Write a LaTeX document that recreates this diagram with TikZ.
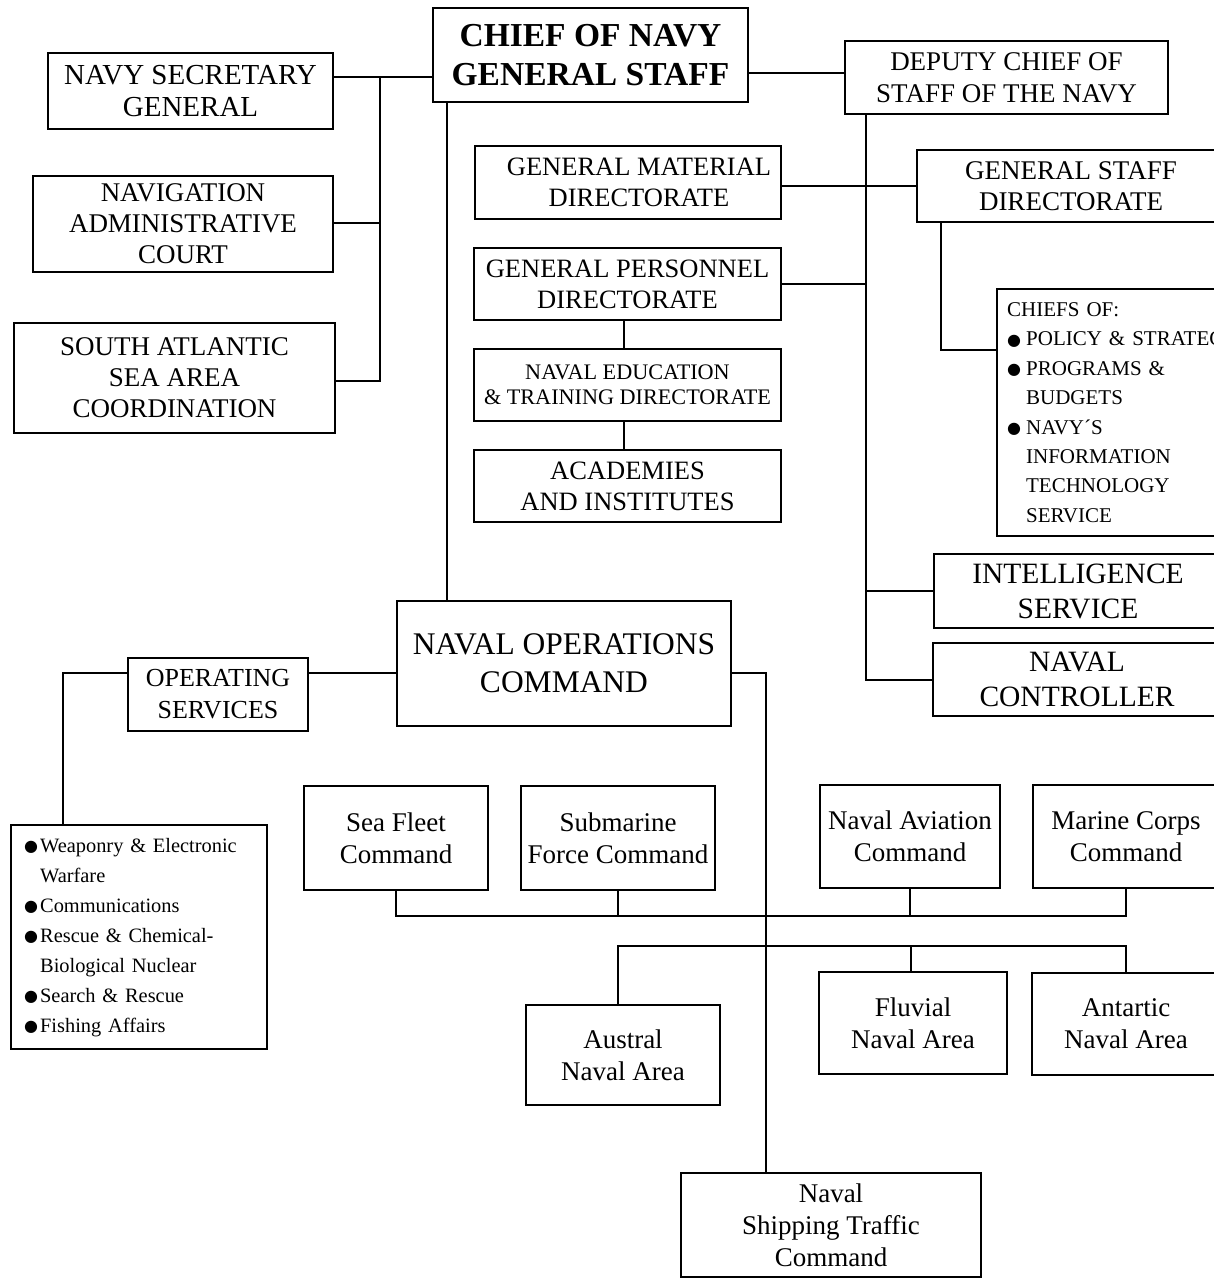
\documentclass[tikz,border=0pt]{standalone}
\usepackage{fontspec}
\setmainfont{Liberation Serif}
\newfontfamily\symfont{DejaVu Sans}
\newcommand\bul{\raisebox{0.5pt}{\symfont\fontsize{16}{16}\selectfont ●}}
\begin{document}
\begin{tikzpicture}[x=1pt,y=-1pt,
  box/.style={draw, line width=2.3pt, inner sep=0pt, align=center},
  conn/.style={line width=2.3pt},
  fbig/.style={font=\fontsize{27}{31}\selectfont},
  fmid/.style={font=\fontsize{26.5}{31}\selectfont},
  flarge/.style={font=\fontsize{29.5}{35}\selectfont},
  fsmall/.style={font=\fontsize{21}{29.4}\selectfont},
  flow/.style={font=\fontsize{27}{32}\selectfont}]
\useasboundingbox (0,0) rectangle (1214,1279);
\clip (0,0) rectangle (1214,1279);

% top level
\node[box, minimum width=315, minimum height=94, font=\bfseries\fontsize{33.5}{39}\selectfont] (chief) at (590.5,55) {CHIEF OF NAVY\\GENERAL STAFF};
\node[box, minimum width=285, minimum height=76, font=\fontsize{29}{32}\selectfont] (navysec) at (190.5,91) {NAVY SECRETARY\\GENERAL};
\node[box, fbig, minimum width=300, minimum height=96] (navcourt) at (183,224) {NAVIGATION\\ADMINISTRATIVE\\COURT};
\node[box, fbig, minimum width=321, minimum height=110] (southatl) at (174.5,378) {SOUTH ATLANTIC\\SEA AREA\\COORDINATION};
\node[box, font=\fontsize{27}{32}\selectfont, minimum width=323, minimum height=73] (deputy) at (1006.5,77.5) {DEPUTY CHIEF OF\\STAFF OF THE NAVY};

% directorates
\node[box, fmid, minimum width=306, minimum height=73] (gmat) at (628,182.5) {\hspace*{22pt}GENERAL MATERIAL\\\hspace*{22pt}DIRECTORATE};
\node[box, font=\fontsize{27}{31}\selectfont, minimum width=308, minimum height=72] (gsd) at (1071,186) {GENERAL STAFF\\DIRECTORATE};
\node[box, fmid, minimum width=307, minimum height=72] (gpers) at (627.5,284) {GENERAL PERSONNEL\\DIRECTORATE};
\node[box, minimum width=307, minimum height=72, font=\fontsize{22.2}{25}\selectfont] (naved) at (627.5,385) {NAVAL EDUCATION\\\& TRAINING DIRECTORATE};
\node[box, fmid, minimum width=307, minimum height=72] (acad) at (627.5,486) {ACADEMIES\\AND INSTITUTES};
\node[box, fsmall, anchor=north west, minimum width=320, minimum height=247, text width=300, inner xsep=10pt, align=left] (chiefs) at (996,288)
 {CHIEFS OF:\\
  \makebox[19pt][l]{\bul}POLICY \& STRATEGY\\
  \makebox[19pt][l]{\bul}PROGRAMS \&\\
  \makebox[19pt][l]{}BUDGETS\\
  \makebox[19pt][l]{\bul}NAVY´S\\
  \makebox[19pt][l]{}INFORMATION\\
  \makebox[19pt][l]{}TECHNOLOGY\\
  \makebox[19pt][l]{}SERVICE};
\node[box, flarge, minimum width=288, minimum height=74] (intel) at (1078,591) {INTELLIGENCE\\SERVICE};
\node[box, flarge, minimum width=288, minimum height=73] (ctrl) at (1077,679.5) {NAVAL\\CONTROLLER};

% operations
\node[box, minimum width=334, minimum height=125, font=\fontsize{31.5}{38}\selectfont] (navops) at (564,663.5) {NAVAL OPERATIONS\\COMMAND};
\node[box, minimum width=180, minimum height=73, font=\fontsize{26}{32}\selectfont] (opsvc) at (218,694.5) {OPERATING\\SERVICES};
\node[box, anchor=north west, minimum width=250, minimum height=224, text width=230, inner xsep=13pt, align=left, font=\fontsize{20.4}{30}\selectfont] (oplist) at (10,824)
 {\makebox[16pt][l]{\bul}Weaponry \& Electronic\\
  \makebox[16pt][l]{}Warfare\\
  \makebox[16pt][l]{\bul}Communications\\
  \makebox[16pt][l]{\bul}Rescue \& Chemical-\\
  \makebox[16pt][l]{}Biological Nuclear\\
  \makebox[16pt][l]{\bul}Search \& Rescue\\
  \makebox[16pt][l]{\bul}Fishing Affairs};

\node[box, flow, minimum width=184, minimum height=104] (seafleet) at (396,838) {Sea Fleet\\Command};
\node[box, flow, minimum width=194, minimum height=104] (sub) at (618,838) {Submarine\\Force Command};
\node[box, flow, minimum width=180, minimum height=103] (aviation) at (910,836.5) {Naval Aviation\\Command};
\node[box, flow, minimum width=186, minimum height=103] (marine) at (1126,836.5) {Marine Corps\\Command};
\node[box, flow, minimum width=194, minimum height=100] (austral) at (623,1055) {Austral\\Naval Area};
\node[box, flow, minimum width=188, minimum height=102] (fluvial) at (913,1023) {Fluvial\\Naval Area};
\node[box, flow, minimum width=188, minimum height=102] (antartic) at (1126,1024) {Antartic\\Naval Area};
\node[box, flow, minimum width=300, minimum height=104] (shipping) at (831,1225) {Naval\\Shipping Traffic\\Command};

% connectors, left staff
\draw[conn] (navysec.east |- 0,77) -- (chief.west |- 0,77);
\draw[conn] (380,77) -- (380,381) -- (southatl.east |- 0,381);
\draw[conn] (navcourt.east |- 0,223) -- (380,223);
% chief to deputy
\draw[conn] (chief.east |- 0,73) -- (deputy.west |- 0,73);
% deputy bus
\draw[conn] (deputy.south -| 866,0) -- (866,680) -- (ctrl.west |- 0,680);
\draw[conn] (gmat.east |- 0,186) -- (gsd.west |- 0,186);
\draw[conn] (gpers.east |- 0,284) -- (866,284);
\draw[conn] (intel.west |- 0,591) -- (866,591);
\draw[conn] (gsd.south -| 941,0) -- (941,350) -- (chiefs.west |- 0,350);
\draw[conn] (gpers.south -| 624,0) -- (naved.north -| 624,0);
\draw[conn] (naved.south -| 624,0) -- (acad.north -| 624,0);
% chief to operations
\draw[conn] (chief.south -| 447,0) -- (navops.north -| 447,0);
\draw[conn] (navops.west |- 0,673) -- (opsvc.east |- 0,673);
\draw[conn] (opsvc.west |- 0,673) -- (63,673) -- (oplist.north -| 63,0);
\draw[conn] (navops.east |- 0,673) -- (766,673) -- (shipping.north -| 766,0);
% commands bus
\draw[conn] (seafleet.south) -- (seafleet.south |- 0,916) -- (marine.south |- 0,916) -- (marine.south);
\draw[conn] (sub.south) -- (sub.south |- 0,916);
\draw[conn] (aviation.south) -- (aviation.south |- 0,916);
% naval areas bus
\draw[conn] (austral.north -| 618,0) -- (618,946) -- (antartic.north |- 0,946) -- (antartic.north);
\draw[conn] (fluvial.north -| 911,0) -- (911,946);
\end{tikzpicture}
\end{document}
